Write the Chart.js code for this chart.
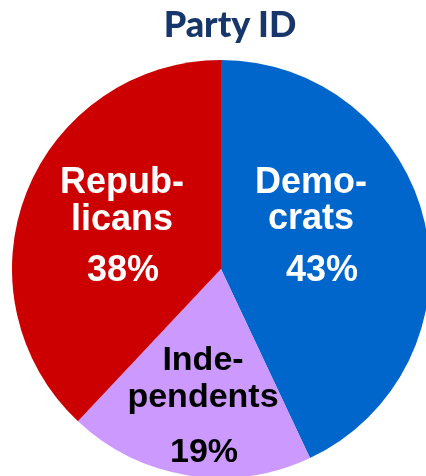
<!DOCTYPE html>
<html>
<head>
<meta charset="utf-8">
<script src="https://cdn.jsdelivr.net/npm/chart.js@4"></script>
<style>
  html, body { margin: 0; padding: 0; background: #fff; overflow: hidden; width: 426px; height: 476px; }
  .title { position: absolute; left: 0; width: 460px; top: 1px; text-align: center;
           font: 900 36px Lato, sans-serif; color: #17366b; }
  .wrap { position: absolute; left: 0; top: 0; width: 450px; height: 480px; }
</style>
</head>
<body>
<div class="wrap"><canvas id="pie"></canvas></div>
<div class="title">Party ID</div>
<script>
const parties = ['Democrats', 'Independents', 'Republicans'];
const shares = [43, 19, 38];
const colors = ['#0066cc', '#cc99ff', '#cc0000'];
const labelLines = [['Demo-', 'crats'], ['Inde-', 'pendents'], ['Repub-', 'licans']];

// text placement for each slice label (x, baseline of each line, pct line)
const labelPos = [
    { x: 311, ys: [193, 229], px: 322, py: 281, color: '#fff', size: 36 },
    { x: 203, ys: [370, 407], px: 204, py: 462, color: '#000', size: 34 },
    { x: 122, ys: [193, 230], px: 123, py: 281, color: '#fff', size: 36 }
];

const sliceText = {
    id: 'sliceText',
    afterDatasetsDraw(chart) {
        const c = chart.ctx;
        c.save();
        c.textAlign = 'center';
        c.textBaseline = 'alphabetic';
        labelPos.forEach((p, i) => {
            c.font = 'bold ' + p.size + 'px "Liberation Sans", Arial, sans-serif';
            c.fillStyle = p.color;
            labelLines[i].forEach((t, j) => c.fillText(t, p.x, p.ys[j]));
            c.fillText(shares[i] + '%', p.px, p.py);
        });
        c.restore();
    }
};

new Chart(document.getElementById('pie'), {
    type: 'pie',
    data: {
        labels: parties,
        datasets: [{
            data: shares,
            backgroundColor: colors,
            borderWidth: 0
        }]
    },
    options: {
        responsive: true,
        maintainAspectRatio: false,
        animation: false,
        layout: { padding: { left: 12, right: 20, top: 60, bottom: 2 } },
        plugins: {
            legend: { display: false },
            tooltip: { enabled: false }
        }
    },
    plugins: [sliceText]
});
</script>
</body>
</html>
